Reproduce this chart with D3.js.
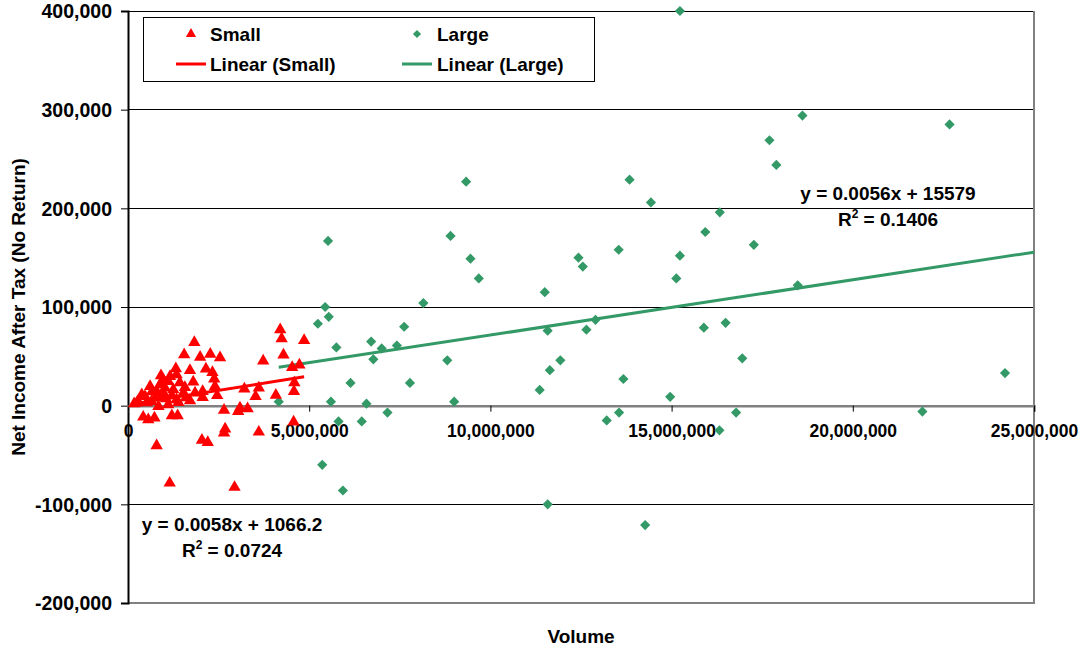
<!DOCTYPE html>
<html>
<head>
<meta charset="utf-8">
<script src="https://cdn.jsdelivr.net/npm/d3@7"></script>
<style>
  body { margin: 0; background: #fff; }
  svg text { font-family: "Liberation Sans", Arial, sans-serif; font-weight: bold; fill: #000; }
</style>
</head>
<body>
<div id="visualization"></div>
<script>
// volume in millions, net income in thousands
const smallVolume = [4.20,4.24,4.86,1.83,1.55,1.99,2.27,2.54,3.73,4.29,2.15,1.71,2.33,2.38,1.34,1.16,1.80,4.53,4.73,4.59,
  4.58,4.08,3.52,3.61,3.21,2.46,2.40,2.06,1.85,2.06,1.57,1.53,1.34,1.25,1.11,0.97,0.88,1.02,0.61,0.79,
  0.38,0.47,0.28,0.24,0.65,0.93,0.84,1.11,1.39,0.42,0.56,0.73,1.21,1.37,2.65,3.09,3.30,3.04,2.68,2.65,
  2.04,2.20,3.61,4.57,0.79,1.15,2.94,0.75,0.97,1.05,0.66,0.52,1.21,1.43,1.32,0.91,0.17,1.60,1.71];
const smallIncome = [77.1,68.0,66.2,64.2,51.7,49.2,52.2,48.7,45.3,51.4,37.2,35.8,33.8,27.1,31.4,29.7,24.0,38.8,41.3,23.3,
  14.5,10.6,9.4,18.0,16.9,10.3,19.6,14.5,12.9,8.4,18.6,12.9,6.1,16.2,24.6,26.4,21.3,18.0,19.6,14.5,
  11.2,9.4,4.4,2.7,4.4,9.4,-0.7,1.0,3.3,-11.5,-14.2,-12.5,-10.1,-10.1,-4.6,-2.3,-3.0,-5.8,-23.6,-27.7,
  -35.0,-37.2,-26.7,-16.5,-40.6,-78.4,-82.7,8.1,13.2,7.1,14.2,3.0,10.1,23.3,37.5,30.4,2.0,8.1,5.1];

const largeVolume = [4.16,5.24,5.36,5.44,5.52,5.54,5.60,5.75,5.81,5.93,6.14,6.45,6.58,6.71,6.77,7.00,7.16,7.42,7.62,7.78,
  8.15,8.81,8.90,9.00,9.33,9.45,9.68,11.36,11.50,11.58,11.58,11.64,11.93,12.43,12.55,12.65,12.90,13.21,13.54,13.55,
  13.67,13.84,14.27,14.43,14.96,15.13,15.23,15.23,15.89,15.93,16.32,16.33,16.49,16.78,16.95,17.27,17.70,17.89,18.48,18.61,
  21.92,22.67,24.20];
const largeIncome = [4,83,-60,100,167,90,4,59,-16,-86,23,-16,2,65,47,58,-7,61,80,23,
  104,46,172,4,227,149,129,16,115,76,-100,36,46,150,141,77,87,-15,158,-7,
  27,229,-121,206,9,129,152,400,79,176,-25,196,84,-7,48,163,269,244,122,294,
  -6,285,33];

const xTicks = [0, 5000000, 10000000, 15000000, 20000000, 25000000];
const yTicks = [-200000, -100000, 0, 100000, 200000, 300000, 400000];

// trend lines as printed on the chart
const smallTrend = { slope: 0.0058, intercept: 1066.2, from: 170000, to: 4860000 };
const largeTrend = { slope: 0.0056, intercept: 15579, from: 4160000, to: 25000000 };

const red = "#ff0000";
const green = "#339966";

const width = 1082, height = 649;
const plot = { left: 128, right: 1034, top: 11, bottom: 603 };

const svg = d3.select("#visualization").append("svg")
  .attr("width", width).attr("height", height);

const x = d3.scaleLinear().domain([0, 25000000]).range([plot.left, plot.right]);
const y = d3.scaleLinear().domain([-200000, 400000]).range([plot.bottom, plot.top]);

// excel style: plain hyphen for negatives
const fmt = d => d3.format(",")(d).replace("\u2212", "-");

const small = smallVolume.map((v, i) => ({ vol: v * 1e6, inc: smallIncome[i] * 1e3 }));
const large = largeVolume.map((v, i) => ({ vol: v * 1e6, inc: largeIncome[i] * 1e3 }));

// gridlines
svg.append("g").selectAll("line")
  .data(yTicks.filter(d => d !== 0 && d !== -200000))
  .join("line")
  .attr("x1", plot.left).attr("x2", plot.right)
  .attr("y1", d => y(d)).attr("y2", d => y(d))
  .attr("stroke", "#000").attr("stroke-width", 1)
  .attr("shape-rendering", "crispEdges");

// plot frame (right + bottom grey)
svg.append("path")
  .attr("d", `M${plot.right},${plot.top}V${plot.bottom}H${plot.left}`)
  .attr("fill", "none").attr("stroke", "#808080").attr("stroke-width", 2);

// y axis
const yAxis = svg.append("g")
  .attr("transform", `translate(${plot.left},0)`)
  .call(d3.axisLeft(y).tickValues(yTicks).tickSize(7).tickPadding(9).tickFormat(fmt));
yAxis.select(".domain").attr("stroke", "#000").attr("stroke-width", 2);
yAxis.selectAll("text").style("font-size", "19.5px").attr("dy", "0.35em");

// x axis crossing at zero
const xAxis = svg.append("g")
  .attr("transform", `translate(0,${y(0)})`)
  .call(d3.axisBottom(x).tickValues(xTicks).tickSize(6).tickPadding(13).tickFormat(fmt));
xAxis.select(".domain").attr("stroke", "#808080").attr("stroke-width", 2.5);
xAxis.selectAll(".tick line").attr("stroke", "#000");
xAxis.selectAll("text").style("font-size", "17.5px");

// axis titles
svg.append("text")
  .attr("transform", `translate(25,${(plot.top + plot.bottom) / 2}) rotate(-90)`)
  .attr("text-anchor", "middle")
  .style("font-size", "19px")
  .text("Net Income After Tax (No Return)");

svg.append("text")
  .attr("x", (plot.left + plot.right) / 2).attr("y", 643)
  .attr("text-anchor", "middle")
  .style("font-size", "19px")
  .text("Volume");

// trend lines
function trendLine(t, color) {
  const pts = [t.from, t.to].map(v => [x(v), y(t.slope * v + t.intercept)]);
  svg.append("path")
    .attr("d", d3.line()(pts))
    .attr("stroke", color).attr("stroke-width", 3).attr("fill", "none");
}
trendLine(largeTrend, green);
trendLine(smallTrend, red);

// points
const tri = d3.symbol().type(d3.symbolTriangle).size(66);
const dia = d3.symbol().type(d3.symbolSquare).size(52);

svg.append("g").selectAll("path")
  .data(large)
  .join("path")
  .attr("d", dia)
  .attr("transform", d => `translate(${x(d.vol)},${y(d.inc)}) rotate(45)`)
  .attr("fill", green);

svg.append("g").selectAll("path")
  .data(small)
  .join("path")
  .attr("d", tri)
  .attr("transform", d => `translate(${x(d.vol)},${y(d.inc)})`)
  .attr("fill", red);

// equations
function equation(cx, yb, eq, r2) {
  svg.append("text").attr("x", cx).attr("y", yb)
    .attr("text-anchor", "middle").style("font-size", "19px").text(eq);
  const t = svg.append("text").attr("x", cx).attr("y", yb + 26)
    .attr("text-anchor", "middle").style("font-size", "19px");
  t.append("tspan").text("R");
  t.append("tspan").attr("dy", -8).style("font-size", "12px").text("2");
  t.append("tspan").attr("dy", 8).text(" = " + r2);
}
equation(888, 200, "y = 0.0056x + 15579", "0.1406");
equation(232, 531, "y = 0.0058x + 1066.2", "0.0724");

// legend
const legend = svg.append("g");
legend.append("rect")
  .attr("x", 143).attr("y", 17).attr("width", 451).attr("height", 64)
  .attr("fill", "#fff").attr("stroke", "#000").attr("stroke-width", 1)
  .attr("shape-rendering", "crispEdges");

const legendItems = [
  { label: "Small", kind: "tri", color: red, lx: 191, tx: 210, ty: 41 },
  { label: "Large", kind: "dia", color: green, lx: 417, tx: 437, ty: 41 },
  { label: "Linear (Small)", kind: "line", color: red, lx: 191, tx: 210, ty: 71 },
  { label: "Linear (Large)", kind: "line", color: green, lx: 417, tx: 437, ty: 71 }
];
legendItems.forEach(it => {
  if (it.kind === "tri") {
    legend.append("path").attr("d", d3.symbol().type(d3.symbolTriangle).size(45))
      .attr("transform", `translate(${it.lx},${it.ty - 7})`).attr("fill", it.color);
  } else if (it.kind === "dia") {
    legend.append("path").attr("d", d3.symbol().type(d3.symbolSquare).size(34))
      .attr("transform", `translate(${it.lx},${it.ty - 7}) rotate(45)`).attr("fill", it.color);
  } else {
    legend.append("line")
      .attr("x1", it.lx - 15).attr("x2", it.lx + 15)
      .attr("y1", it.ty - 7).attr("y2", it.ty - 7)
      .attr("stroke", it.color).attr("stroke-width", 3);
  }
  legend.append("text").attr("x", it.tx).attr("y", it.ty)
    .style("font-size", "19px").text(it.label);
});
</script>
</body>
</html>
